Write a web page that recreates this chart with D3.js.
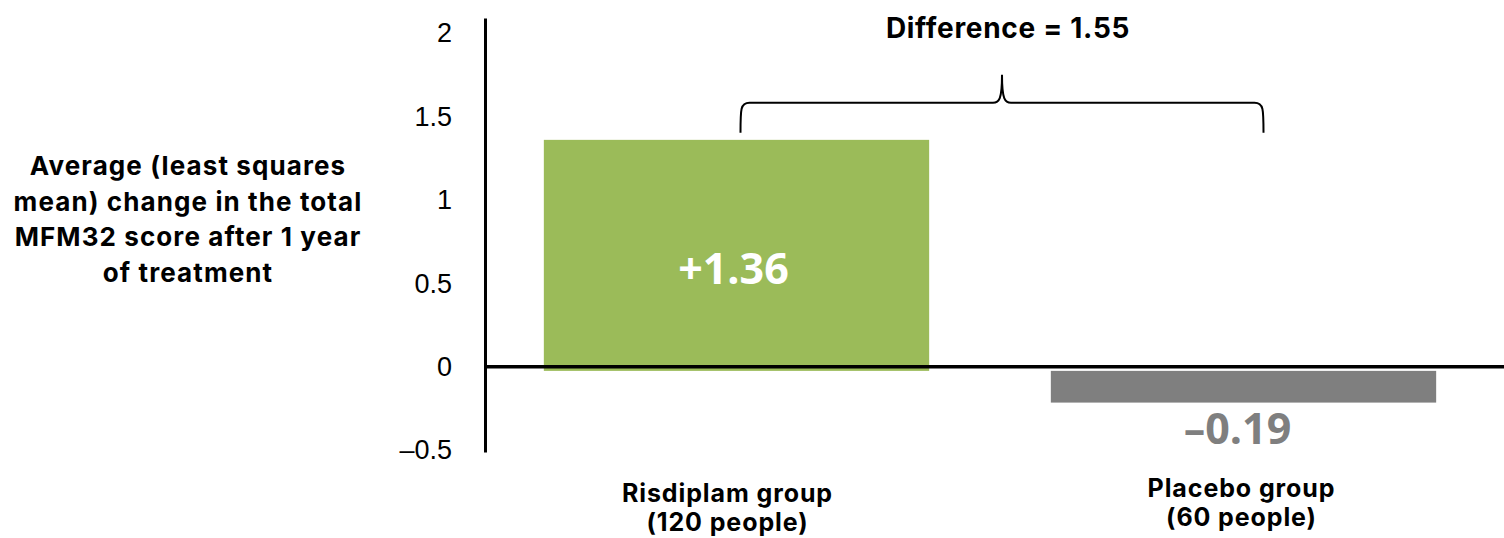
<!DOCTYPE html>
<html>
<head>
<meta charset="utf-8">
<script src="https://cdn.jsdelivr.net/npm/d3@7"></script>
<style>
  body { margin: 0; background: #fff; }
  svg { display: block; }
</style>
</head>
<body>
<div id="chart"></div>
<script>
// data
const groups = ["Risdiplam group", "Placebo group"];
const groupSizes = ["(120 people)", "(60 people)"];
const changes = [1.36, -0.19];
const valueLabels = ["+1.36", "\u20130.19"];
const yTicks = [-0.5, 0, 0.5, 1, 1.5, 2];
const difference = 1.55;
const yTitle = ["Average (least squares", "mean) change in the total", "MFM32 score after 1 year", "of treatment"];

const W = 1504, H = 538;
const colors = ["#9bbb59", "#7f7f7f"];
const boldFont = "Inter, 'Noto Sans', sans-serif";

const svg = d3.select("#chart").append("svg")
    .attr("width", W)
    .attr("height", H);

const y = d3.scaleLinear().domain([-0.51, 2.09]).range([452, 18]);
const x = d3.scaleBand().domain(groups).range([483, 1497])
    .paddingInner(0.24).paddingOuter(0.12);

// bars
const base = y(0) + 4;
svg.selectAll(".bar").data(changes).enter()
    .append("rect")
    .attr("class", "bar")
    .attr("x", (d, i) => x(groups[i]))
    .attr("y", d => d >= 0 ? y(d) : base)
    .attr("width", x.bandwidth())
    .attr("height", d => d >= 0 ? base - y(d) : y(d) + 4 - base)
    .attr("fill", (d, i) => colors[i]);

// y axis
const yAxis = svg.append("g")
    .attr("transform", "translate(485,0)")
    .call(d3.axisLeft(y).tickValues(yTicks).tickSize(0).tickPadding(33)
        .tickFormat(d => String(d).replace("-", "\u2013")));
yAxis.select(".domain").attr("stroke", "#000").attr("stroke-width", 3);
yAxis.selectAll("text")
    .style("font-family", "'Liberation Sans', Arial, sans-serif")
    .style("font-size", "27px")
    .attr("fill", "#000");

// zero line
svg.append("line")
    .attr("x1", 485).attr("x2", W)
    .attr("y1", y(0)).attr("y2", y(0))
    .attr("stroke", "#000")
    .attr("stroke-width", 3.5);

// value labels
svg.selectAll(".value").data(changes).enter()
    .append("text")
    .attr("class", "value")
    .attr("x", (d, i) => x(groups[i]) + x.bandwidth() / 2 - (d < 0 ? 6 : 3))
    .attr("y", d => d >= 0 ? (y(d) + y(0)) / 2 + 31 : y(d) + 45)
    .attr("text-anchor", "middle")
    .style("font-family", "'Open Sans', sans-serif")
    .style("font-weight", 700)
    .style("font-size", "43px")
    .attr("fill", (d, i) => d >= 0 ? "#fff" : colors[i])
    .text((d, i) => valueLabels[i]);

// category labels
const labelShift = [0, -5];
groups.forEach((g, i) => {
    const cx = x(g) + x.bandwidth() / 2 - (i === 0 ? 9 : 2);
    const t = svg.append("text")
        .attr("x", cx)
        .attr("y", 502 + labelShift[i])
        .attr("text-anchor", "middle")
        .style("font-family", boldFont)
        .style("font-weight", 700)
        .style("font-size", "25px")
        .style("letter-spacing", "0.9px")
        .attr("fill", "#000");
    t.append("tspan").text(g);
    t.append("tspan").attr("x", cx).attr("dy", 29).text(groupSizes[i]);
});

// y-axis title
const title = svg.append("text")
    .attr("x", 188)
    .attr("y", 175)
    .attr("text-anchor", "middle")
    .style("font-family", boldFont)
    .style("font-weight", 700)
    .style("font-size", "26px")
    .style("letter-spacing", "1.1px")
    .attr("fill", "#000");
yTitle.forEach((line, i) => {
    title.append("tspan").attr("x", 188).attr("dy", i === 0 ? 0 : 35.5).text(line);
});

// brace showing the difference
const bl = x(groups[0]) + x.bandwidth() / 2 + 4;
const br = x(groups[1]) + x.bandwidth() / 2 + 20;
const bm = (bl + br) / 2;
const by0 = y(changes[0]) - 7;
const by1 = by0 - 30;
const tip = by0 - 58;
const brace = `M${bl},${by0} C${bl},${by1 + 6} ${bl},${by1} ${bl + 9},${by1} L${bm - 9},${by1} C${bm - 3},${by1} ${bm},${by1 - 3} ${bm},${tip}` +
    ` C${bm},${by1 - 3} ${bm + 3},${by1} ${bm + 9},${by1} L${br - 9},${by1} C${br},${by1} ${br},${by1 + 6} ${br},${by0}`;
svg.append("path")
    .attr("d", brace)
    .attr("fill", "none")
    .attr("stroke", "#000")
    .attr("stroke-width", 2);

svg.append("text")
    .attr("x", bm + 6)
    .attr("y", 38)
    .attr("text-anchor", "middle")
    .style("font-family", boldFont)
    .style("font-weight", 700)
    .style("font-size", "28px")
    .style("letter-spacing", "0.7px")
    .attr("fill", "#000")
    .text(`Difference = ${difference}`);
</script>
</body>
</html>
